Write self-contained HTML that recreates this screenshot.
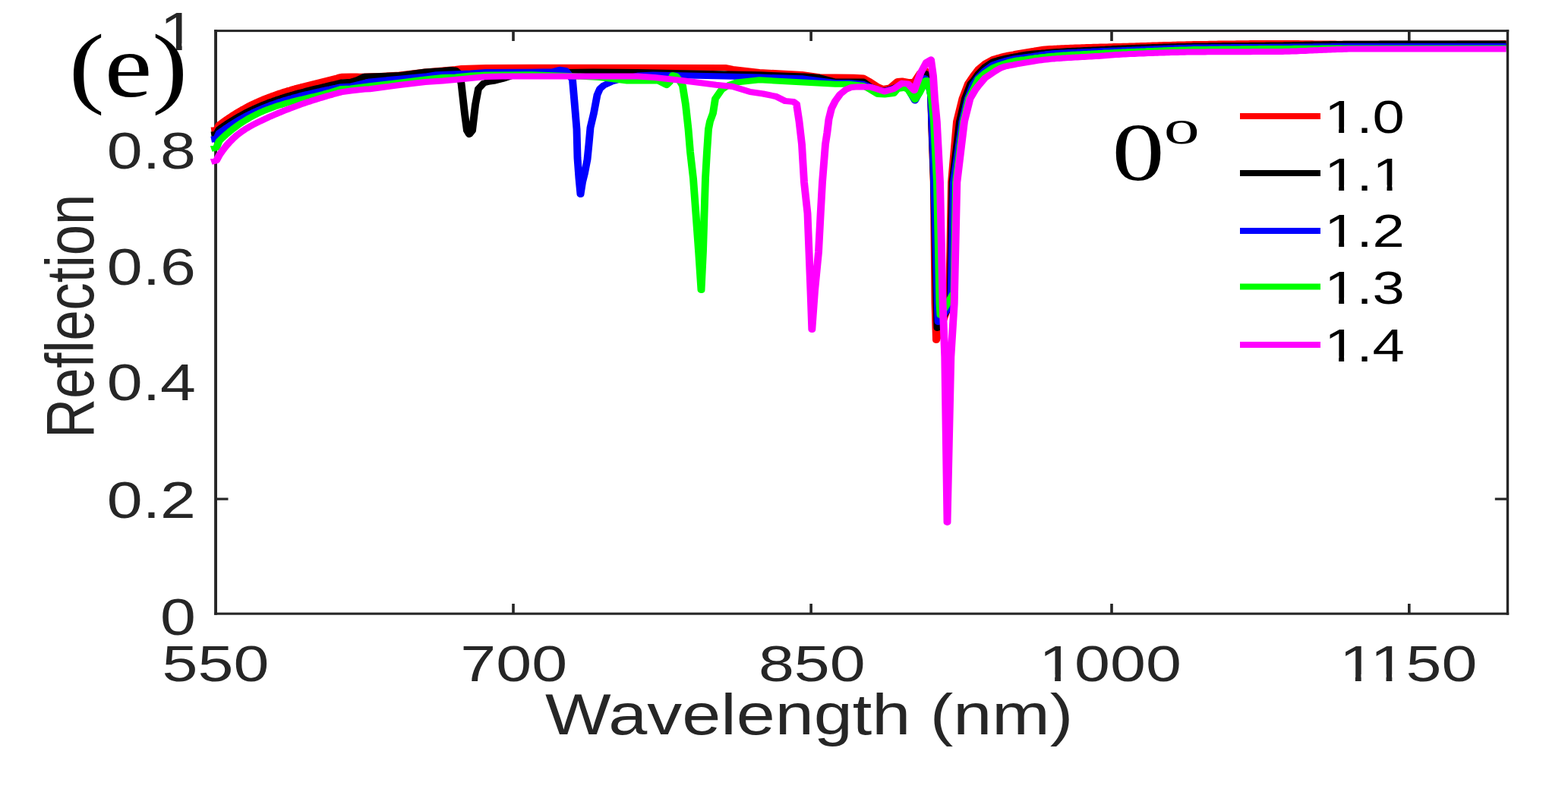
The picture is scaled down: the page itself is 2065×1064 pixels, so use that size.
<!DOCTYPE html>
<html><head><meta charset="utf-8"><title>Reflection vs Wavelength</title>
<style>html,body{margin:0;padding:0;background:#fff;overflow:hidden}svg{display:block}</style>
</head><body>
<svg width="2065" height="1064" viewBox="0 0 2065 1064"><defs><clipPath id="f1c1" clipPathUnits="userSpaceOnUse"><path clip-rule="evenodd" d="M-5000,-5000H5000V5000H-5000ZM-71.03,-8.78H-58.27V2.70H-71.03ZM-52.06,-8.78H-39.85V2.70H-52.06Z"/></clipPath><clipPath id="f1c2" clipPathUnits="userSpaceOnUse"><path clip-rule="evenodd" d="M-5000,-5000H5000V5000H-5000ZM-68.53,-8.78H-55.77V2.70H-68.53ZM-49.56,-8.78H-37.34V2.70H-49.56ZM-36.00,-8.78H-23.24V2.70H-36.00ZM-17.03,-8.78H-4.81V2.70H-17.03Z"/></clipPath><clipPath id="f1c3" clipPathUnits="userSpaceOnUse"><path clip-rule="evenodd" d="M-5000,-5000H5000V5000H-5000ZM-35.23,-9.23H-21.81V2.84H-35.23ZM-15.28,-9.23H-2.43V2.84H-15.28Z"/></clipPath><clipPath id="f1c4" clipPathUnits="userSpaceOnUse"><path clip-rule="evenodd" d="M-5000,-5000H5000V5000H-5000ZM3.68,-7.97H15.26V2.45H3.68ZM20.90,-7.97H32.00V2.45H20.90Z"/></clipPath><clipPath id="f1c5" clipPathUnits="userSpaceOnUse"><path clip-rule="evenodd" d="M-5000,-5000H5000V5000H-5000ZM3.68,-7.97H15.26V2.45H3.68ZM20.90,-7.97H32.00V2.45H20.90ZM54.81,-7.97H66.40V2.45H54.81ZM72.04,-7.97H83.13V2.45H72.04Z"/></clipPath><clipPath id="f1c6" clipPathUnits="userSpaceOnUse"><path clip-rule="evenodd" d="M-5000,-5000H5000V5000H-5000ZM3.68,-7.97H15.26V2.45H3.68ZM20.90,-7.97H32.00V2.45H20.90Z"/></clipPath><clipPath id="f1c7" clipPathUnits="userSpaceOnUse"><path clip-rule="evenodd" d="M-5000,-5000H5000V5000H-5000ZM3.68,-7.97H15.26V2.45H3.68ZM20.90,-7.97H32.00V2.45H20.90Z"/></clipPath><clipPath id="f1c8" clipPathUnits="userSpaceOnUse"><path clip-rule="evenodd" d="M-5000,-5000H5000V5000H-5000ZM3.68,-7.97H15.26V2.45H3.68ZM20.90,-7.97H32.00V2.45H20.90Z"/></clipPath></defs><rect x="0" y="0" width="2065" height="1064" fill="#fff"/>
<g fill="#262626">
<rect x="282.1" y="39.1" width="1705.1" height="3.0"/>
<rect x="282.1" y="806.6" width="1705.1" height="3.1"/>
<rect x="282.1" y="39.1" width="3.9" height="770.6"/>
<rect x="1983.8" y="39.1" width="3.4" height="770.6"/>
<rect x="674.2" y="795.0" width="3.6" height="12.0"/>
<rect x="674.2" y="41.5" width="3.6" height="12.5"/>
<rect x="1066.3" y="795.0" width="3.6" height="12.0"/>
<rect x="1066.3" y="41.5" width="3.6" height="12.5"/>
<rect x="1462.2" y="795.0" width="3.6" height="12.0"/>
<rect x="1462.2" y="41.5" width="3.6" height="12.5"/>
<rect x="1854.0" y="795.0" width="3.6" height="12.0"/>
<rect x="1854.0" y="41.5" width="3.6" height="12.5"/>
<rect x="285.0" y="655.5" width="15.5" height="3.2"/>
<rect x="1968.8" y="655.5" width="16.2" height="3.2"/>
</g>
<g transform="scale(1.240,1)" fill="none" stroke-width="8.0" stroke-linejoin="round" stroke-linecap="butt">
<polyline stroke="#ff0000" points="224.35,171.4 229.84,170.8 232.66,164.5 234.27,163.0 235.89,161.5 237.50,160.0 239.11,158.5 240.73,157.1 242.34,155.7 243.95,154.3 245.56,153.0 247.18,151.7 248.79,150.4 250.40,149.2 252.02,147.9 253.63,146.7 255.24,145.6 256.85,144.4 258.47,143.3 260.08,142.2 261.69,141.1 263.31,140.0 264.92,139.0 266.53,138.0 268.15,137.0 269.76,136.1 271.37,135.1 272.98,134.2 274.60,133.3 276.21,132.4 277.82,131.6 279.44,130.7 281.05,129.9 282.66,129.1 284.27,128.3 285.89,127.5 287.50,126.8 289.11,126.0 290.73,125.3 292.34,124.6 293.95,123.9 295.56,123.2 297.18,122.5 298.79,121.9 300.40,121.2 302.02,120.6 303.63,120.0 305.24,119.3 306.85,118.7 308.47,118.2 310.08,117.6 311.69,117.0 313.31,116.4 314.92,115.9 316.53,115.3 318.15,114.8 319.76,114.3 321.37,113.7 322.98,113.2 324.60,112.7 326.21,112.2 327.82,111.7 329.44,111.2 331.05,110.7 332.66,110.2 334.27,109.7 335.89,109.2 337.50,108.7 339.11,108.2 340.73,107.7 342.34,107.2 343.95,106.7 345.56,106.2 347.18,105.7 348.79,105.2 350.40,104.7 352.02,104.2 353.63,103.7 355.24,103.2 356.85,102.7 358.47,102.2 360.08,101.6 361.69,101.1 362.90,100.7 372.58,100.6 379.03,100.6 382.26,100.8 403.23,100.0 424.19,98.5 451.61,94.5 470.16,92.5 483.87,91.0 490.32,90.0 516.13,89.0 564.52,88.7 669.35,88.7 770.16,89.0 778.23,91.0 806.45,95.0 851.61,98.0 870.16,101.3 887.10,101.5 906.45,101.8 916.94,102.5 924.19,107.5 932.26,114.0 937.90,117.0 945.16,115.4 953.23,107.0 958.06,106.5 964.52,108.0 970.97,108.0 977.42,96.0 982.26,92.0 985.48,100.0 987.90,115.0 989.11,130.0 989.52,160.0 991.77,240.0 993.15,400.0 994.35,448.0 1008.06,400.0 1010.48,240.0 1016.13,160.0 1022.10,130.0 1028.23,110.0 1034.68,98.3 1039.11,91.1 1045.97,83.9 1054.84,77.8 1057.26,76.9 1059.68,76.0 1062.10,75.2 1064.52,74.4 1066.94,73.7 1069.35,73.0 1071.77,72.4 1074.19,71.8 1076.61,71.3 1079.03,70.7 1081.45,70.2 1083.87,69.7 1086.29,69.2 1088.71,68.7 1091.13,68.2 1093.55,67.7 1095.97,67.2 1098.39,66.7 1100.81,66.1 1103.23,65.6 1105.65,65.2 1108.06,64.8 1110.48,64.5 1112.90,64.3 1115.32,64.1 1117.74,63.9 1120.16,63.7 1122.58,63.6 1125.00,63.4 1127.42,63.3 1129.84,63.2 1132.26,63.0 1134.68,62.9 1137.10,62.8 1139.52,62.7 1141.94,62.6 1144.35,62.5 1146.77,62.4 1149.19,62.3 1151.61,62.2 1154.03,62.1 1156.45,62.0 1158.87,61.9 1161.29,61.8 1163.71,61.8 1166.13,61.7 1168.55,61.6 1170.97,61.5 1173.39,61.4 1175.81,61.4 1178.23,61.3 1180.65,61.2 1183.06,61.1 1185.48,61.1 1187.90,61.0 1190.32,60.9 1192.74,60.8 1195.16,60.7 1197.58,60.7 1200.00,60.6 1202.42,60.5 1204.84,60.4 1207.26,60.3 1209.68,60.2 1212.10,60.1 1214.52,60.0 1216.94,59.9 1219.35,59.8 1221.77,59.7 1224.19,59.6 1226.61,59.5 1229.03,59.4 1231.45,59.3 1233.87,59.2 1236.29,59.1 1238.71,59.1 1241.13,59.0 1243.55,58.9 1245.97,58.8 1248.39,58.7 1250.81,58.6 1253.23,58.5 1255.65,58.5 1258.06,58.4 1260.48,58.3 1262.90,58.3 1265.32,58.2 1267.74,58.1 1270.16,58.1 1272.58,58.0 1275.00,58.0 1277.42,57.9 1279.84,57.9 1282.26,57.9 1284.68,57.8 1287.10,57.8 1289.52,57.7 1291.94,57.7 1294.35,57.6 1296.77,57.6 1299.19,57.6 1301.61,57.5 1304.03,57.5 1306.45,57.4 1308.87,57.4 1311.29,57.4 1313.71,57.3 1316.13,57.3 1318.55,57.3 1320.97,57.2 1323.39,57.2 1325.81,57.2 1328.23,57.1 1330.65,57.1 1333.06,57.1 1335.48,57.1 1337.90,57.1 1340.32,57.0 1342.74,57.0 1345.16,57.0 1347.58,57.0 1350.00,57.0 1352.42,57.0 1354.84,57.0 1357.26,57.0 1359.68,57.0 1362.10,57.0 1364.52,57.0 1366.94,57.0 1369.35,57.1 1371.77,57.1 1374.19,57.1 1376.61,57.1 1379.03,57.1 1381.45,57.2 1383.87,57.2 1386.29,57.2 1388.71,57.3 1391.13,57.3 1393.55,57.3 1395.97,57.4 1398.39,57.4 1400.81,57.4 1403.23,57.5 1405.65,57.5 1408.06,57.5 1410.48,57.5 1412.90,57.6 1415.32,57.6 1417.74,57.6 1420.16,57.7 1422.58,57.7 1425.00,57.7 1427.42,57.7 1429.84,57.7 1432.26,57.8 1434.68,57.8 1437.10,57.8 1439.52,57.8 1441.94,57.8 1444.35,57.8 1446.77,57.8 1449.19,57.8 1451.61,57.8 1454.03,57.8 1456.45,57.8 1458.87,57.8 1461.29,57.8 1463.71,57.8 1466.13,57.8 1468.55,57.8 1470.97,57.8 1473.39,57.8 1475.81,57.8 1478.23,57.8 1480.65,57.8 1483.06,57.8 1485.48,57.8 1487.90,57.8 1490.32,57.8 1492.74,57.8 1495.16,57.8 1497.58,57.8 1500.00,57.8 1502.42,57.8 1504.84,57.8 1507.26,57.8 1509.68,57.8 1512.10,57.8 1514.52,57.8 1516.94,57.7 1519.35,57.7 1521.77,57.7 1524.19,57.7 1526.61,57.7 1529.03,57.7 1531.45,57.7 1533.87,57.7 1536.29,57.7 1538.71,57.7 1541.13,57.7 1543.55,57.7 1545.97,57.7 1548.39,57.6 1550.81,57.6 1553.23,57.6 1555.65,57.6 1558.06,57.6 1560.48,57.6 1562.90,57.6 1565.32,57.6 1567.74,57.5 1570.16,57.5 1572.58,57.5 1575.00,57.5 1577.42,57.5 1579.84,57.5 1582.26,57.4 1584.68,57.4 1587.10,57.4 1589.52,57.4 1591.94,57.4 1594.35,57.3 1596.77,57.3 1599.19,57.3 1599.68,57.3"/>
<polyline stroke="#000000" points="224.35,177.5 229.84,176.8 232.66,170.2 234.27,168.8 235.89,167.3 237.50,165.9 239.11,164.6 240.73,163.2 242.34,161.9 243.95,160.6 245.56,159.4 247.18,158.1 248.79,156.9 250.40,155.7 252.02,154.5 253.63,153.4 255.24,152.3 256.85,151.2 258.47,150.1 260.08,149.0 261.69,148.0 263.31,147.0 264.92,146.0 266.53,145.0 268.15,144.1 269.76,143.1 271.37,142.2 272.98,141.3 274.60,140.4 276.21,139.6 277.82,138.7 279.44,137.9 281.05,137.1 282.66,136.3 284.27,135.5 285.89,134.7 287.50,134.0 289.11,133.3 290.73,132.5 292.34,131.8 293.95,131.1 295.56,130.5 297.18,129.8 298.79,129.1 300.40,128.5 302.02,127.8 303.63,127.2 305.24,126.6 306.85,126.0 308.47,125.4 310.08,124.8 311.69,124.3 313.31,123.7 314.92,123.1 316.53,122.6 318.15,122.0 319.76,121.5 321.37,121.0 322.98,120.5 324.60,119.9 326.21,119.4 327.82,118.9 329.44,118.4 331.05,117.9 332.66,117.4 334.27,116.9 335.89,116.4 337.50,116.0 339.11,115.5 340.73,115.0 342.34,114.5 343.95,114.0 345.56,113.6 347.18,113.1 348.79,112.6 350.40,112.1 352.02,111.6 353.63,111.2 355.24,110.7 356.85,110.2 358.47,109.7 360.08,109.2 361.69,108.7 362.10,108.6 372.58,107.8 379.84,105.0 387.10,100.7 424.19,99.1 451.61,94.5 470.16,93.0 478.23,92.0 483.87,92.5 487.10,96.0 489.92,110.0 493.55,150.0 495.97,172.0 498.39,177.0 501.61,172.0 504.84,138.0 508.06,117.0 513.71,109.5 520.16,107.5 525.81,106.5 533.87,104.0 548.39,98.0 564.52,95.5 629.84,94.5 677.42,95.0 806.45,98.3 854.84,100.5 870.16,102.0 887.10,107.5 901.61,107.5 916.94,107.5 924.19,114.0 932.26,118.0 939.52,120.0 949.19,116.0 958.06,111.0 964.52,112.0 971.77,127.0 978.23,108.0 983.06,97.0 986.29,105.0 988.71,120.0 989.68,160.0 991.94,240.0 994.76,400.0 995.56,432.0 1009.27,400.0 1011.69,240.0 1019.35,160.0 1025.00,130.0 1031.13,110.0 1034.68,105.0 1039.11,97.3 1045.97,88.4 1054.84,81.2 1057.26,80.3 1059.68,79.4 1062.10,78.6 1064.52,77.8 1066.94,77.1 1069.35,76.4 1071.77,75.8 1074.19,75.2 1076.61,74.7 1079.03,74.1 1081.45,73.6 1083.87,73.0 1086.29,72.5 1088.71,72.0 1091.13,71.5 1093.55,71.1 1095.97,70.8 1098.39,70.5 1100.81,70.2 1103.23,69.9 1105.65,69.7 1108.06,69.4 1110.48,69.2 1112.90,68.9 1115.32,68.7 1117.74,68.5 1120.16,68.3 1122.58,68.1 1125.00,67.9 1127.42,67.7 1129.84,67.5 1132.26,67.3 1134.68,67.1 1137.10,67.0 1139.52,66.8 1141.94,66.7 1144.35,66.5 1146.77,66.4 1149.19,66.2 1151.61,66.1 1154.03,66.0 1156.45,65.8 1158.87,65.7 1161.29,65.5 1163.71,65.4 1166.13,65.2 1168.55,65.1 1170.97,64.9 1173.39,64.8 1175.81,64.6 1178.23,64.4 1180.65,64.3 1183.06,64.1 1185.48,64.0 1187.90,63.8 1190.32,63.7 1192.74,63.5 1195.16,63.4 1197.58,63.3 1200.00,63.2 1202.42,63.1 1204.84,63.0 1207.26,62.8 1209.68,62.7 1212.10,62.6 1214.52,62.5 1216.94,62.4 1219.35,62.3 1221.77,62.2 1224.19,62.1 1226.61,62.0 1229.03,61.9 1231.45,61.8 1233.87,61.7 1236.29,61.6 1238.71,61.5 1241.13,61.4 1243.55,61.3 1245.97,61.3 1248.39,61.2 1250.81,61.1 1253.23,61.0 1255.65,60.9 1258.06,60.9 1260.48,60.8 1262.90,60.7 1265.32,60.7 1267.74,60.6 1270.16,60.6 1272.58,60.5 1275.00,60.5 1277.42,60.4 1279.84,60.4 1282.26,60.4 1284.68,60.3 1287.10,60.3 1289.52,60.3 1291.94,60.2 1294.35,60.2 1296.77,60.2 1299.19,60.1 1301.61,60.1 1304.03,60.1 1306.45,60.1 1308.87,60.0 1311.29,60.0 1313.71,60.0 1316.13,60.0 1318.55,59.9 1320.97,59.9 1323.39,59.9 1325.81,59.9 1328.23,59.8 1330.65,59.8 1333.06,59.8 1335.48,59.8 1337.90,59.7 1340.32,59.7 1342.74,59.7 1345.16,59.6 1347.58,59.6 1350.00,59.6 1352.42,59.5 1354.84,59.5 1357.26,59.5 1359.68,59.4 1362.10,59.4 1364.52,59.3 1366.94,59.3 1369.35,59.2 1371.77,59.2 1374.19,59.1 1376.61,59.0 1379.03,59.0 1381.45,58.9 1383.87,58.9 1386.29,58.8 1388.71,58.7 1391.13,58.7 1393.55,58.6 1395.97,58.5 1398.39,58.5 1400.81,58.4 1403.23,58.4 1405.65,58.3 1408.06,58.2 1410.48,58.2 1412.90,58.1 1415.32,58.1 1417.74,58.0 1420.16,58.0 1422.58,57.9 1425.00,57.9 1427.42,57.8 1429.84,57.8 1432.26,57.8 1434.68,57.8 1437.10,57.7 1439.52,57.7 1441.94,57.7 1444.35,57.7 1446.77,57.7 1449.19,57.7 1451.61,57.7 1454.03,57.7 1456.45,57.7 1458.87,57.7 1461.29,57.7 1463.71,57.7 1466.13,57.6 1468.55,57.6 1470.97,57.6 1473.39,57.6 1475.81,57.6 1478.23,57.6 1480.65,57.6 1483.06,57.6 1485.48,57.6 1487.90,57.6 1490.32,57.6 1492.74,57.6 1495.16,57.6 1497.58,57.6 1500.00,57.6 1502.42,57.6 1504.84,57.6 1507.26,57.6 1509.68,57.6 1512.10,57.6 1514.52,57.6 1516.94,57.6 1519.35,57.6 1521.77,57.5 1524.19,57.5 1526.61,57.5 1529.03,57.5 1531.45,57.5 1533.87,57.5 1536.29,57.5 1538.71,57.5 1541.13,57.5 1543.55,57.5 1545.97,57.5 1548.39,57.5 1550.81,57.5 1553.23,57.5 1555.65,57.5 1558.06,57.5 1560.48,57.5 1562.90,57.5 1565.32,57.5 1567.74,57.5 1570.16,57.5 1572.58,57.5 1575.00,57.5 1577.42,57.5 1579.84,57.5 1582.26,57.5 1584.68,57.5 1587.10,57.5 1589.52,57.5 1591.94,57.5 1594.35,57.5 1596.77,57.5 1599.19,57.5 1599.68,57.5"/>
<polyline stroke="#0000ff" points="224.35,183.7 229.84,182.8 232.66,175.3 234.27,173.8 235.89,172.4 237.50,170.9 239.11,169.5 240.73,168.1 242.34,166.8 243.95,165.4 245.56,164.1 247.18,162.9 248.79,161.6 250.40,160.4 252.02,159.2 253.63,158.0 255.24,156.9 256.85,155.7 258.47,154.6 260.08,153.5 261.69,152.5 263.31,151.5 264.92,150.4 266.53,149.4 268.15,148.5 269.76,147.5 271.37,146.6 272.98,145.7 274.60,144.8 276.21,143.9 277.82,143.0 279.44,142.2 281.05,141.4 282.66,140.6 284.27,139.8 285.89,139.0 287.50,138.2 289.11,137.5 290.73,136.8 292.34,136.1 293.95,135.4 295.56,134.7 297.18,134.0 298.79,133.4 300.40,132.7 302.02,132.1 303.63,131.5 305.24,130.9 306.85,130.3 308.47,129.7 310.08,129.2 311.69,128.6 313.31,128.0 314.92,127.5 316.53,127.0 318.15,126.4 319.76,125.9 321.37,125.4 322.98,124.9 324.60,124.4 326.21,124.0 327.82,123.5 329.44,123.0 331.05,122.5 332.66,122.1 334.27,121.6 335.89,121.2 337.50,120.7 339.11,120.3 340.73,119.9 342.34,119.4 343.95,119.0 345.56,118.5 347.18,118.1 348.79,117.7 350.40,117.3 352.02,116.8 353.63,116.4 355.24,116.0 356.85,115.6 358.47,115.1 360.08,114.7 361.69,114.3 362.10,114.2 372.58,113.5 392.74,107.4 424.19,103.6 451.61,100.6 463.71,98.2 500.00,96.5 516.13,95.0 564.52,94.7 587.10,94.3 594.35,91.8 600.81,93.0 604.84,99.0 608.06,105.0 610.48,140.0 612.50,170.0 613.31,208.0 614.92,235.0 616.53,256.0 618.55,240.0 620.97,228.0 623.79,210.0 625.40,190.0 627.02,168.0 630.65,149.0 634.27,125.0 637.10,117.0 641.13,112.5 650.00,107.5 657.26,105.0 666.13,103.0 677.42,99.5 693.55,98.5 806.45,101.6 851.61,103.3 887.10,109.0 901.61,109.0 916.94,110.8 924.19,114.5 932.26,118.0 939.52,120.0 949.19,116.5 956.45,113.0 963.71,115.0 971.77,132.5 978.23,117.0 982.26,103.0 986.29,110.0 988.71,125.0 989.84,160.0 992.18,240.0 995.81,400.0 996.45,424.0 1010.08,400.0 1012.90,240.0 1022.10,160.0 1027.90,130.0 1033.71,111.0 1039.11,101.8 1045.97,93.0 1054.84,85.1 1057.26,84.1 1059.68,83.1 1062.10,82.1 1064.52,81.3 1066.94,80.4 1069.35,79.6 1071.77,78.8 1074.19,78.1 1076.61,77.5 1079.03,77.0 1081.45,76.5 1083.87,76.1 1086.29,75.7 1088.71,75.3 1091.13,74.9 1093.55,74.5 1095.97,74.1 1098.39,73.6 1100.81,73.1 1103.23,72.7 1105.65,72.2 1108.06,71.8 1110.48,71.3 1112.90,70.9 1115.32,70.6 1117.74,70.3 1120.16,70.1 1122.58,69.9 1125.00,69.7 1127.42,69.5 1129.84,69.4 1132.26,69.2 1134.68,69.1 1137.10,69.0 1139.52,68.8 1141.94,68.7 1144.35,68.6 1146.77,68.4 1149.19,68.3 1151.61,68.2 1154.03,68.0 1156.45,67.9 1158.87,67.8 1161.29,67.6 1163.71,67.5 1166.13,67.4 1168.55,67.2 1170.97,67.1 1173.39,67.0 1175.81,66.9 1178.23,66.7 1180.65,66.6 1183.06,66.5 1185.48,66.4 1187.90,66.3 1190.32,66.2 1192.74,66.0 1195.16,65.9 1197.58,65.8 1200.00,65.7 1202.42,65.6 1204.84,65.4 1207.26,65.3 1209.68,65.2 1212.10,65.1 1214.52,64.9 1216.94,64.8 1219.35,64.7 1221.77,64.5 1224.19,64.4 1226.61,64.3 1229.03,64.2 1231.45,64.0 1233.87,63.9 1236.29,63.8 1238.71,63.7 1241.13,63.6 1243.55,63.5 1245.97,63.4 1248.39,63.3 1250.81,63.2 1253.23,63.1 1255.65,63.0 1258.06,62.9 1260.48,62.8 1262.90,62.7 1265.32,62.7 1267.74,62.6 1270.16,62.6 1272.58,62.5 1275.00,62.5 1277.42,62.5 1279.84,62.4 1282.26,62.4 1284.68,62.4 1287.10,62.3 1289.52,62.3 1291.94,62.3 1294.35,62.3 1296.77,62.2 1299.19,62.2 1301.61,62.2 1304.03,62.2 1306.45,62.2 1308.87,62.1 1311.29,62.1 1313.71,62.1 1316.13,62.1 1318.55,62.1 1320.97,62.0 1323.39,62.0 1325.81,62.0 1328.23,62.0 1330.65,62.0 1333.06,62.0 1335.48,61.9 1337.90,61.9 1340.32,61.9 1342.74,61.9 1345.16,61.9 1347.58,61.9 1350.00,61.8 1352.42,61.8 1354.84,61.8 1357.26,61.8 1359.68,61.8 1362.10,61.7 1364.52,61.7 1366.94,61.7 1369.35,61.7 1371.77,61.6 1374.19,61.6 1376.61,61.6 1379.03,61.5 1381.45,61.5 1383.87,61.5 1386.29,61.5 1388.71,61.4 1391.13,61.4 1393.55,61.4 1395.97,61.3 1398.39,61.3 1400.81,61.3 1403.23,61.3 1405.65,61.2 1408.06,61.2 1410.48,61.2 1412.90,61.2 1415.32,61.1 1417.74,61.1 1420.16,61.1 1422.58,61.1 1425.00,61.1 1427.42,61.0 1429.84,61.0 1432.26,61.0 1434.68,61.0 1437.10,61.0 1439.52,61.0 1441.94,61.0 1444.35,61.0 1446.77,61.0 1449.19,61.0 1451.61,61.0 1454.03,61.0 1456.45,61.0 1458.87,61.0 1461.29,61.0 1463.71,61.0 1466.13,61.0 1468.55,61.0 1470.97,61.0 1473.39,61.0 1475.81,61.0 1478.23,61.0 1480.65,61.0 1483.06,61.0 1485.48,61.0 1487.90,61.0 1490.32,61.0 1492.74,61.0 1495.16,61.0 1497.58,61.0 1500.00,61.0 1502.42,61.0 1504.84,61.0 1507.26,61.0 1509.68,61.0 1512.10,61.0 1514.52,61.0 1516.94,61.0 1519.35,61.0 1521.77,61.0 1524.19,61.0 1526.61,61.0 1529.03,61.0 1531.45,61.0 1533.87,61.0 1536.29,61.0 1538.71,61.0 1541.13,61.0 1543.55,61.0 1545.97,61.0 1548.39,61.0 1550.81,61.0 1553.23,61.0 1555.65,61.0 1558.06,61.0 1560.48,61.0 1562.90,61.0 1565.32,61.0 1567.74,61.0 1570.16,61.0 1572.58,61.0 1575.00,61.0 1577.42,61.0 1579.84,61.0 1582.26,61.0 1584.68,61.0 1587.10,61.0 1589.52,61.0 1591.94,61.0 1594.35,61.0 1596.77,61.0 1599.19,61.0 1599.68,61.0"/>
<polyline stroke="#00ff00" points="224.35,196.0 229.84,194.5 232.66,185.9 234.27,183.9 235.89,182.0 237.50,180.2 239.11,178.3 240.73,176.6 242.34,174.9 243.95,173.2 245.56,171.6 247.18,170.0 248.79,168.5 250.40,167.0 252.02,165.5 253.63,164.1 255.24,162.7 256.85,161.4 258.47,160.1 260.08,158.9 261.69,157.7 263.31,156.5 264.92,155.3 266.53,154.2 268.15,153.1 269.76,152.1 271.37,151.1 272.98,150.1 274.60,149.2 276.21,148.2 277.82,147.3 279.44,146.5 281.05,145.6 282.66,144.8 284.27,144.0 285.89,143.3 287.50,142.5 289.11,141.8 290.73,141.1 292.34,140.4 293.95,139.7 295.56,139.1 297.18,138.5 298.79,137.9 300.40,137.3 302.02,136.7 303.63,136.1 305.24,135.5 306.85,135.0 308.47,134.5 310.08,133.9 311.69,133.4 313.31,132.9 314.92,132.4 316.53,131.9 318.15,131.4 319.76,131.0 321.37,130.5 322.98,130.0 324.60,129.5 326.21,129.1 327.82,128.6 329.44,128.1 331.05,127.6 332.66,127.2 334.27,126.7 335.89,126.2 337.50,125.7 339.11,125.2 340.73,124.7 342.34,124.2 343.95,123.7 345.56,123.1 347.18,122.6 348.79,122.0 350.40,121.5 352.02,120.9 353.63,120.3 355.24,119.7 356.85,119.1 358.47,118.4 360.08,117.8 361.69,117.1 362.10,116.9 372.58,116.5 392.74,113.3 424.19,108.7 451.61,104.5 470.16,102.0 483.87,101.5 500.00,99.5 516.13,98.5 564.52,98.3 604.84,100.0 637.10,102.0 666.13,106.5 699.19,106.6 703.23,109.0 708.06,112.0 711.29,108.0 714.52,99.0 717.74,100.0 721.77,106.0 725.00,113.0 728.23,138.0 731.05,170.0 733.06,200.0 736.29,235.0 739.11,282.0 741.94,330.0 744.76,382.0 746.77,330.0 747.98,282.0 749.19,235.0 750.81,200.0 752.42,170.0 754.03,160.0 757.26,149.0 759.68,130.0 766.13,118.5 774.19,112.0 782.26,108.5 806.45,105.3 860.48,109.0 887.10,110.8 901.61,110.8 916.94,113.0 924.19,118.0 932.26,124.0 939.52,124.5 949.19,123.0 953.23,117.0 960.48,115.7 964.52,118.0 971.77,131.0 976.61,122.0 979.84,114.0 983.06,106.0 984.68,106.0 987.10,115.0 989.52,130.0 991.94,160.0 995.16,240.0 997.98,400.0 998.79,415.0 1013.31,385.0 1015.32,240.0 1023.39,160.0 1029.03,130.0 1036.94,110.0 1039.11,104.0 1045.97,96.3 1054.84,89.0 1057.26,87.8 1059.68,86.7 1062.10,85.6 1064.52,84.6 1066.94,83.7 1069.35,82.7 1071.77,81.8 1074.19,81.0 1076.61,80.3 1079.03,79.7 1081.45,79.3 1083.87,78.8 1086.29,78.4 1088.71,78.1 1091.13,77.7 1093.55,77.3 1095.97,76.9 1098.39,76.5 1100.81,76.0 1103.23,75.7 1105.65,75.3 1108.06,75.0 1110.48,74.7 1112.90,74.3 1115.32,74.0 1117.74,73.7 1120.16,73.5 1122.58,73.2 1125.00,73.0 1127.42,72.8 1129.84,72.6 1132.26,72.4 1134.68,72.2 1137.10,72.0 1139.52,71.8 1141.94,71.7 1144.35,71.5 1146.77,71.4 1149.19,71.2 1151.61,71.0 1154.03,70.9 1156.45,70.7 1158.87,70.6 1161.29,70.4 1163.71,70.2 1166.13,70.1 1168.55,69.9 1170.97,69.8 1173.39,69.6 1175.81,69.5 1178.23,69.4 1180.65,69.2 1183.06,69.1 1185.48,68.9 1187.90,68.8 1190.32,68.7 1192.74,68.5 1195.16,68.4 1197.58,68.3 1200.00,68.2 1202.42,68.0 1204.84,67.9 1207.26,67.8 1209.68,67.7 1212.10,67.5 1214.52,67.4 1216.94,67.3 1219.35,67.1 1221.77,67.0 1224.19,66.9 1226.61,66.8 1229.03,66.7 1231.45,66.5 1233.87,66.4 1236.29,66.3 1238.71,66.2 1241.13,66.1 1243.55,66.0 1245.97,65.9 1248.39,65.8 1250.81,65.7 1253.23,65.6 1255.65,65.5 1258.06,65.4 1260.48,65.4 1262.90,65.3 1265.32,65.2 1267.74,65.1 1270.16,65.1 1272.58,65.0 1275.00,65.0 1277.42,64.9 1279.84,64.9 1282.26,64.9 1284.68,64.8 1287.10,64.8 1289.52,64.7 1291.94,64.7 1294.35,64.7 1296.77,64.6 1299.19,64.6 1301.61,64.5 1304.03,64.5 1306.45,64.5 1308.87,64.5 1311.29,64.4 1313.71,64.4 1316.13,64.4 1318.55,64.3 1320.97,64.3 1323.39,64.3 1325.81,64.3 1328.23,64.2 1330.65,64.2 1333.06,64.2 1335.48,64.2 1337.90,64.1 1340.32,64.1 1342.74,64.1 1345.16,64.1 1347.58,64.1 1350.00,64.0 1352.42,64.0 1354.84,64.0 1357.26,64.0 1359.68,64.0 1362.10,63.9 1364.52,63.9 1366.94,63.9 1369.35,63.9 1371.77,63.9 1374.19,63.8 1376.61,63.8 1379.03,63.8 1381.45,63.8 1383.87,63.8 1386.29,63.8 1388.71,63.7 1391.13,63.7 1393.55,63.7 1395.97,63.7 1398.39,63.7 1400.81,63.7 1403.23,63.6 1405.65,63.6 1408.06,63.6 1410.48,63.6 1412.90,63.6 1415.32,63.6 1417.74,63.6 1420.16,63.6 1422.58,63.5 1425.00,63.5 1427.42,63.5 1429.84,63.5 1432.26,63.5 1434.68,63.5 1437.10,63.5 1439.52,63.5 1441.94,63.5 1444.35,63.5 1446.77,63.5 1449.19,63.5 1451.61,63.5 1454.03,63.5 1456.45,63.5 1458.87,63.5 1461.29,63.5 1463.71,63.5 1466.13,63.5 1468.55,63.5 1470.97,63.5 1473.39,63.5 1475.81,63.5 1478.23,63.5 1480.65,63.5 1483.06,63.5 1485.48,63.5 1487.90,63.5 1490.32,63.5 1492.74,63.5 1495.16,63.5 1497.58,63.5 1500.00,63.5 1502.42,63.5 1504.84,63.5 1507.26,63.5 1509.68,63.5 1512.10,63.5 1514.52,63.5 1516.94,63.5 1519.35,63.5 1521.77,63.5 1524.19,63.5 1526.61,63.5 1529.03,63.5 1531.45,63.5 1533.87,63.5 1536.29,63.5 1538.71,63.5 1541.13,63.5 1543.55,63.5 1545.97,63.5 1548.39,63.5 1550.81,63.5 1553.23,63.5 1555.65,63.5 1558.06,63.5 1560.48,63.5 1562.90,63.5 1565.32,63.5 1567.74,63.5 1570.16,63.5 1572.58,63.5 1575.00,63.5 1577.42,63.5 1579.84,63.5 1582.26,63.5 1584.68,63.5 1587.10,63.5 1589.52,63.5 1591.94,63.5 1594.35,63.5 1596.77,63.5 1599.19,63.5 1599.68,63.5"/>
<polyline stroke="#ff00ff" points="224.35,213.0 229.84,211.5 232.66,204.9 234.27,201.9 235.89,199.1 237.50,196.4 239.11,193.9 240.73,191.4 242.34,189.1 243.95,186.9 245.56,184.9 247.18,182.9 248.79,181.1 250.40,179.3 252.02,177.6 253.63,176.1 255.24,174.6 256.85,173.1 258.47,171.8 260.08,170.5 261.69,169.2 263.31,168.1 264.92,166.9 266.53,165.8 268.15,164.7 269.76,163.7 271.37,162.7 272.98,161.7 274.60,160.7 276.21,159.7 277.82,158.8 279.44,157.8 281.05,156.9 282.66,155.9 284.27,155.0 285.89,154.1 287.50,153.2 289.11,152.3 290.73,151.5 292.34,150.6 293.95,149.8 295.56,148.9 297.18,148.1 298.79,147.3 300.40,146.4 302.02,145.6 303.63,144.9 305.24,144.1 306.85,143.3 308.47,142.5 310.08,141.8 311.69,141.0 313.31,140.3 314.92,139.6 316.53,138.9 318.15,138.1 319.76,137.4 321.37,136.7 322.98,136.1 324.60,135.4 326.21,134.7 327.82,134.0 329.44,133.4 331.05,132.7 332.66,132.1 334.27,131.5 335.89,130.8 337.50,130.2 339.11,129.6 340.73,129.0 342.34,128.4 343.95,127.8 345.56,127.2 347.18,126.6 348.79,126.0 350.40,125.5 352.02,124.9 353.63,124.3 355.24,123.8 356.85,123.2 358.47,122.7 360.08,122.1 361.69,121.6 362.10,121.4 372.58,119.5 387.10,117.6 392.74,117.3 424.19,112.0 451.61,108.0 470.16,106.5 491.94,104.0 515.32,101.0 533.87,100.4 564.52,100.4 677.42,100.4 695.16,102.0 724.19,106.0 760.48,111.7 778.23,114.0 796.77,121.0 810.48,123.5 824.19,127.0 833.87,133.0 842.74,134.0 845.97,137.0 848.79,160.0 851.61,190.0 854.03,240.0 857.66,281.0 859.27,332.0 860.89,383.0 862.34,434.0 865.32,383.0 869.35,332.0 871.53,281.0 873.39,240.0 876.61,190.0 878.47,175.0 880.24,157.0 883.06,143.0 887.10,133.0 892.34,124.0 898.39,118.0 904.03,115.0 911.29,114.3 924.19,114.5 932.26,117.6 939.52,120.6 949.19,117.0 958.06,109.6 964.52,110.5 970.97,119.0 977.82,96.0 983.87,82.0 988.71,78.5 991.13,100.0 992.74,130.0 995.00,160.0 998.39,240.0 1001.29,400.0 1003.47,470.0 1006.05,688.0 1009.92,470.0 1013.47,400.0 1016.37,240.0 1024.19,160.0 1030.24,130.0 1035.48,119.0 1039.11,112.9 1045.97,102.9 1054.84,95.5 1057.26,93.5 1059.68,91.6 1062.10,90.0 1064.52,88.7 1066.94,87.7 1069.35,87.0 1071.77,86.4 1074.19,85.8 1076.61,85.3 1079.03,84.7 1081.45,84.2 1083.87,83.7 1086.29,83.2 1088.71,82.7 1091.13,82.2 1093.55,81.7 1095.97,81.1 1098.39,80.5 1100.81,80.0 1103.23,79.6 1105.65,79.2 1108.06,78.8 1110.48,78.5 1112.90,78.2 1115.32,77.9 1117.74,77.6 1120.16,77.4 1122.58,77.1 1125.00,76.9 1127.42,76.7 1129.84,76.4 1132.26,76.3 1134.68,76.1 1137.10,75.9 1139.52,75.7 1141.94,75.6 1144.35,75.4 1146.77,75.3 1149.19,75.1 1151.61,75.0 1154.03,74.8 1156.45,74.6 1158.87,74.5 1161.29,74.3 1163.71,74.1 1166.13,73.9 1168.55,73.7 1170.97,73.5 1173.39,73.3 1175.81,73.0 1178.23,72.8 1180.65,72.6 1183.06,72.3 1185.48,72.1 1187.90,71.9 1190.32,71.7 1192.74,71.5 1195.16,71.4 1197.58,71.3 1200.00,71.1 1202.42,71.0 1204.84,70.9 1207.26,70.7 1209.68,70.6 1212.10,70.5 1214.52,70.4 1216.94,70.2 1219.35,70.1 1221.77,70.0 1224.19,69.9 1226.61,69.8 1229.03,69.7 1231.45,69.6 1233.87,69.5 1236.29,69.4 1238.71,69.3 1241.13,69.2 1243.55,69.1 1245.97,69.0 1248.39,68.9 1250.81,68.9 1253.23,68.8 1255.65,68.7 1258.06,68.7 1260.48,68.6 1262.90,68.6 1265.32,68.5 1267.74,68.5 1270.16,68.4 1272.58,68.4 1275.00,68.4 1277.42,68.4 1279.84,68.4 1282.26,68.3 1284.68,68.3 1287.10,68.3 1289.52,68.3 1291.94,68.3 1294.35,68.3 1296.77,68.3 1299.19,68.3 1301.61,68.2 1304.03,68.2 1306.45,68.2 1308.87,68.2 1311.29,68.2 1313.71,68.2 1316.13,68.2 1318.55,68.2 1320.97,68.2 1323.39,68.2 1325.81,68.2 1328.23,68.2 1330.65,68.1 1333.06,68.1 1335.48,68.1 1337.90,68.1 1340.32,68.1 1342.74,68.1 1345.16,68.1 1347.58,68.1 1350.00,68.0 1352.42,68.0 1354.84,68.0 1357.26,68.0 1359.68,67.9 1362.10,67.9 1364.52,67.8 1366.94,67.7 1369.35,67.7 1371.77,67.6 1374.19,67.5 1376.61,67.4 1379.03,67.2 1381.45,67.1 1383.87,67.0 1386.29,66.9 1388.71,66.7 1391.13,66.6 1393.55,66.5 1395.97,66.3 1398.39,66.2 1400.81,66.1 1403.23,65.9 1405.65,65.8 1408.06,65.7 1410.48,65.5 1412.90,65.4 1415.32,65.3 1417.74,65.2 1420.16,65.1 1422.58,65.0 1425.00,64.9 1427.42,64.8 1429.84,64.7 1432.26,64.6 1434.68,64.6 1437.10,64.5 1439.52,64.5 1441.94,64.5 1444.35,64.5 1446.77,64.5 1449.19,64.5 1451.61,64.5 1454.03,64.5 1456.45,64.5 1458.87,64.5 1461.29,64.5 1463.71,64.5 1466.13,64.5 1468.55,64.5 1470.97,64.5 1473.39,64.5 1475.81,64.5 1478.23,64.5 1480.65,64.5 1483.06,64.5 1485.48,64.5 1487.90,64.5 1490.32,64.5 1492.74,64.5 1495.16,64.5 1497.58,64.5 1500.00,64.5 1502.42,64.5 1504.84,64.5 1507.26,64.5 1509.68,64.5 1512.10,64.5 1514.52,64.5 1516.94,64.5 1519.35,64.5 1521.77,64.5 1524.19,64.5 1526.61,64.5 1529.03,64.5 1531.45,64.5 1533.87,64.5 1536.29,64.5 1538.71,64.5 1541.13,64.5 1543.55,64.5 1545.97,64.5 1548.39,64.5 1550.81,64.5 1553.23,64.5 1555.65,64.5 1558.06,64.5 1560.48,64.5 1562.90,64.5 1565.32,64.5 1567.74,64.5 1570.16,64.5 1572.58,64.5 1575.00,64.5 1577.42,64.5 1579.84,64.5 1582.26,64.5 1584.68,64.5 1587.10,64.5 1589.52,64.5 1591.94,64.5 1594.35,64.5 1596.77,64.5 1599.19,64.5 1599.68,64.5"/>
</g>
<text transform="translate(284.0,896.8) scale(1.250,1)" font-family="'Liberation Sans', Arial, Helvetica, sans-serif" font-size="67.5" fill="#262626" text-anchor="middle">550</text>
<text transform="translate(676.7,896.8) scale(1.250,1)" font-family="'Liberation Sans', Arial, Helvetica, sans-serif" font-size="67.5" fill="#262626" text-anchor="middle">700</text>
<text transform="translate(1069.3,896.8) scale(1.250,1)" font-family="'Liberation Sans', Arial, Helvetica, sans-serif" font-size="67.5" fill="#262626" text-anchor="middle">850</text>
<text transform="translate(1462.0,896.8) scale(1.250,1)" font-family="'Liberation Sans', Arial, Helvetica, sans-serif" font-size="67.5" fill="#262626" text-anchor="middle" clip-path="url(#f1c1)">1000</text>
<text transform="translate(1854.6,896.8) scale(1.250,1)" font-family="'Liberation Sans', Arial, Helvetica, sans-serif" font-size="67.5" fill="#262626" text-anchor="middle" clip-path="url(#f1c2)">1150</text>
<text transform="translate(258.0,835.7) scale(1.240,1)" font-family="'Liberation Sans', Arial, Helvetica, sans-serif" font-size="68.0" fill="#262626" text-anchor="end">0</text>
<text transform="translate(258.0,682.2) scale(1.240,1)" font-family="'Liberation Sans', Arial, Helvetica, sans-serif" font-size="68.0" fill="#262626" text-anchor="end">0.2</text>
<text transform="translate(258.0,527.2) scale(1.240,1)" font-family="'Liberation Sans', Arial, Helvetica, sans-serif" font-size="68.0" fill="#262626" text-anchor="end">0.4</text>
<text transform="translate(258.0,375.2) scale(1.240,1)" font-family="'Liberation Sans', Arial, Helvetica, sans-serif" font-size="68.0" fill="#262626" text-anchor="end">0.6</text>
<text transform="translate(258.0,221.7) scale(1.240,1)" font-family="'Liberation Sans', Arial, Helvetica, sans-serif" font-size="68.0" fill="#262626" text-anchor="end">0.8</text>
<text transform="translate(258.0,66.3) scale(1.200,1)" font-family="'Liberation Sans', Arial, Helvetica, sans-serif" font-size="71.0" fill="#262626" text-anchor="end" clip-path="url(#f1c3)">1</text>
<text transform="translate(718.1,966.8) scale(1.214,1)" font-family="'Liberation Sans', Arial, Helvetica, sans-serif" font-size="75.6" fill="#262626" text-anchor="start">Wavelength (nm)</text>
<text transform="translate(122.9,416.4) rotate(-90) scale(1,1.23)" font-family="'Liberation Sans', Arial, Helvetica, sans-serif" font-size="72.2" fill="#262626" text-anchor="middle">Reflection</text>
<text transform="translate(90.8,126.9) scale(1.194,1)" font-family="'Liberation Serif', 'Times New Roman', serif" font-size="118.0" fill="#000" text-anchor="start">(e)</text>
<text transform="translate(1464.6,236.9) scale(1.270,1)" font-family="'Liberation Serif', 'Times New Roman', serif" font-size="108.7" fill="#000" text-anchor="start">0</text>
<text transform="translate(1532.8,189.3) scale(1.480,1)" font-family="'Liberation Serif', 'Times New Roman', serif" font-size="63.6" fill="#000" text-anchor="start">o</text>
<line x1="1633" y1="153" x2="1739" y2="153" stroke="#ff0000" stroke-width="8"/>
<text transform="translate(1744.2,174.8) scale(1.240,1)" font-family="'Liberation Sans', Arial, Helvetica, sans-serif" font-size="61.3" fill="#000" text-anchor="start" clip-path="url(#f1c4)">1.0</text>
<line x1="1633" y1="228" x2="1739" y2="228" stroke="#000000" stroke-width="8"/>
<text transform="translate(1744.2,251.4) scale(1.240,1)" font-family="'Liberation Sans', Arial, Helvetica, sans-serif" font-size="61.3" fill="#000" text-anchor="start" clip-path="url(#f1c5)">1.1</text>
<line x1="1633" y1="304" x2="1739" y2="304" stroke="#0000ff" stroke-width="8"/>
<text transform="translate(1744.2,324.8) scale(1.240,1)" font-family="'Liberation Sans', Arial, Helvetica, sans-serif" font-size="61.3" fill="#000" text-anchor="start" clip-path="url(#f1c6)">1.2</text>
<line x1="1633" y1="377.5" x2="1739" y2="377.5" stroke="#00ff00" stroke-width="8"/>
<text transform="translate(1744.2,399.8) scale(1.240,1)" font-family="'Liberation Sans', Arial, Helvetica, sans-serif" font-size="61.3" fill="#000" text-anchor="start" clip-path="url(#f1c7)">1.3</text>
<line x1="1633" y1="454" x2="1739" y2="454" stroke="#ff00ff" stroke-width="8"/>
<text transform="translate(1744.2,476.4) scale(1.240,1)" font-family="'Liberation Sans', Arial, Helvetica, sans-serif" font-size="61.3" fill="#000" text-anchor="start" clip-path="url(#f1c8)">1.4</text></svg>
</body></html>
